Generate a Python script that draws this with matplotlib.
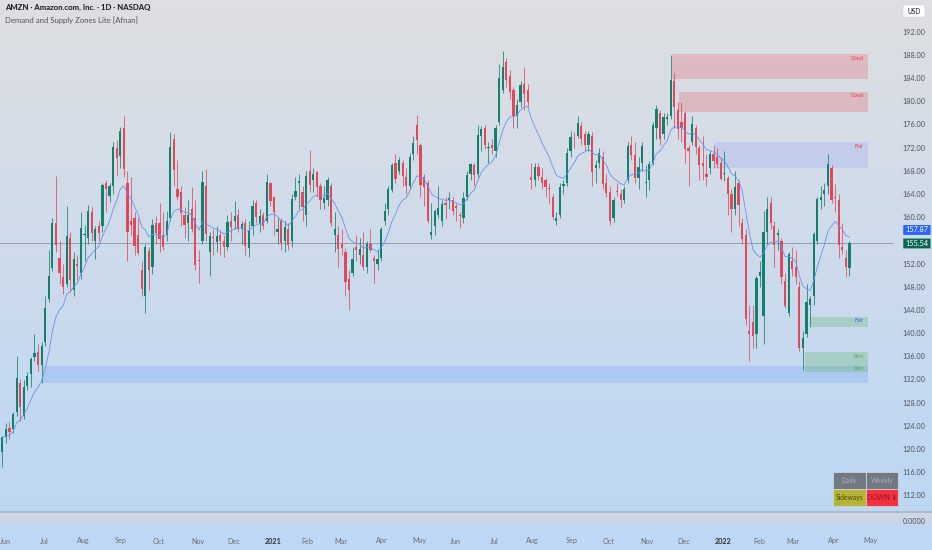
import numpy as np
import pandas as pd
import matplotlib
matplotlib.use("Agg")
import matplotlib.pyplot as plt
from matplotlib.patches import Rectangle, FancyBboxPatch

plt.rcParams["font.family"] = ["Lato", "DejaVu Sans"]

# AMZN daily candles, grouped two sessions per bar (2020-05-28 .. 2022-04-13)
opens = [
    119.5, 122.2, 123.7, 123.5, 126.5, 131.5, 125.8, 131.0, 133.0, 136.0, 136.8, 134.5,
    138.5, 146.0, 151.3, 159.0, 153.0, 149.8, 148.5, 156.5, 147.5, 152.0, 150.5,
    157.0, 156.5, 161.0, 156.0, 158.6, 158.5, 166.0, 163.8, 165.5, 172.0, 170.6,
    175.5, 166.0, 159.5, 160.0, 157.0, 151.0, 146.5, 154.3, 151.5, 159.0,
    159.0, 157.0, 157.0, 160.0, 173.5, 165.0, 164.5, 160.5, 159.0, 161.5, 160.0,
    152.5, 156.0, 165.5, 154.0, 156.5, 155.8, 157.0, 155.9, 155.0, 159.5,
    159.5, 160.5, 158.0, 159.0, 154.8, 158.5, 162.5, 159.0, 160.5, 159.5, 166.0,
    163.5, 157.5, 159.5, 156.0, 158.0, 156.0, 163.5, 166.0, 164.5, 160.5,
    168.0, 166.5, 167.8, 165.5, 162.5, 163.0, 165.5, 157.0, 157.0,
    155.5, 154.0, 149.5, 150.5, 155.0, 153.5, 153.5, 151.5, 155.5, 153.0, 152.0, 153.0,
    159.5, 161.5, 164.8, 169.5, 168.0, 169.5, 167.0, 165.5, 171.0, 176.0,
    172.5, 167.0, 166.0, 157.0, 158.5, 160.5, 159.5, 162.5, 163.0, 163.0,
    162.0, 160.5, 160.0, 163.5, 167.5, 169.0, 167.5, 174.0, 175.5, 172.0, 172.5,
    171.5, 176.5, 182.0, 186.8, 184.5, 182.0, 177.5, 180.0, 183.0, 182.0, 167.0,
    166.5, 168.8, 167.0, 166.5, 165.0, 163.5, 159.5, 160.5, 165.5, 166.0, 171.5,
    174.0, 174.0, 175.8, 174.5, 172.5, 174.0, 168.5, 169.5, 170.5, 166.0,
    164.5, 160.0, 164.5, 164.0, 163.0, 166.5, 172.5, 170.8, 166.8, 169.5, 166.0,
    166.5, 169.5, 175.5, 178.0, 174.5, 177.0, 177.5, 183.5, 178.5, 176.5,
    178.0, 172.0, 173.0, 175.5, 172.0, 169.5, 167.5, 168.5, 171.0, 170.5, 169.5,
    167.5, 166.8, 164.0, 161.5, 166.0, 159.0, 157.0, 140.5, 142.0, 140.0,
    150.0, 143.0, 157.5, 162.5, 158.5, 157.0, 156.0, 149.0, 143.5, 152.5,
    151.5, 148.0, 137.5, 140.0, 145.0, 146.5, 156.0, 163.0, 164.0, 165.5, 168.5,
    163.5, 163.0, 155.0, 153.0, 151.3,
]
highs = [
    122.3, 124.6, 124.8, 126.4, 136.1, 132.2, 132.0, 133.3, 136.0, 140.0, 138.2, 138.5,
    146.5, 154.5, 159.9, 167.2, 156.0, 152.0, 162.0, 157.5, 154.0, 153.5, 161.0,
    158.8, 162.2, 161.8, 158.5, 159.5, 166.0, 166.5, 166.0, 173.0, 173.3, 175.6,
    177.6, 168.0, 167.0, 161.0, 160.0, 152.5, 155.5, 155.0, 159.8, 160.2,
    162.5, 161.0, 161.2, 174.8, 174.5, 170.0, 165.5, 161.8, 163.0, 165.2, 163.0,
    154.5, 168.0, 168.3, 157.5, 158.0, 158.5, 157.8, 157.0, 160.5, 161.0,
    162.8, 161.5, 159.5, 159.8, 159.5, 163.0, 163.0, 161.5, 161.0, 167.5, 166.2,
    163.6, 160.0, 160.0, 159.5, 159.0, 164.0, 167.0, 167.5, 165.5, 168.0,
    171.7, 168.5, 168.0, 166.0, 165.5, 167.0, 166.0, 161.0, 158.5,
    158.0, 154.8, 151.0, 155.0, 157.0, 156.5, 157.5, 156.0, 158.0, 153.5, 154.5, 158.3,
    162.5, 165.5, 169.5, 171.0, 170.5, 170.0, 168.5, 171.2, 174.0, 177.7,
    172.8, 167.5, 166.5, 162.5, 161.5, 165.5, 163.0, 163.5, 164.5, 163.5,
    162.5, 161.0, 164.5, 168.0, 169.5, 169.5, 176.0, 175.8, 176.0, 173.0, 173.5,
    176.0, 186.5, 188.7, 187.5, 185.5, 182.5, 180.5, 183.5, 186.0, 183.0, 169.5,
    169.5, 169.5, 168.5, 166.8, 166.0, 164.0, 161.0, 166.0, 166.5, 172.0, 175.0,
    174.8, 177.6, 176.5, 175.0, 175.0, 174.8, 170.0, 172.0, 171.5, 167.5,
    165.5, 163.5, 166.0, 165.0, 165.5, 173.0, 174.0, 173.0, 170.5, 173.0, 169.0,
    169.8, 176.5, 179.5, 178.5, 178.0, 178.0, 188.1, 185.0, 180.0, 180.0,
    178.3, 172.5, 177.5, 176.0, 172.5, 174.0, 171.0, 171.5, 172.5, 172.0, 170.5,
    171.4, 167.2, 165.0, 168.0, 166.5, 160.0, 158.0, 145.0, 145.0, 150.0,
    152.5, 161.2, 163.5, 163.5, 159.5, 158.0, 156.5, 150.5, 154.0, 155.0,
    154.5, 149.0, 140.5, 148.5, 146.5, 157.5, 163.5, 165.5, 166.0, 170.9, 169.0,
    165.8, 164.0, 159.0, 154.5, 156.0,
]
lows = [
    117.0, 121.2, 121.8, 122.8, 125.8, 125.0, 125.2, 130.2, 130.8, 135.2, 133.5, 131.5,
    137.9, 145.5, 150.8, 154.0, 148.5, 146.8, 148.0, 147.2, 146.5, 149.2, 149.5,
    152.5, 155.5, 156.0, 152.8, 156.0, 157.5, 161.0, 162.7, 164.0, 167.2, 168.5,
    167.0, 152.5, 157.0, 153.5, 153.5, 146.5, 143.6, 147.6, 150.2, 155.5,
    154.0, 154.5, 156.0, 159.5, 165.5, 163.0, 158.5, 156.5, 156.0, 157.5, 151.0,
    148.8, 155.5, 156.0, 150.0, 153.5, 154.0, 153.5, 153.2, 154.5, 156.0,
    158.0, 157.5, 155.5, 153.5, 153.2, 157.0, 159.0, 157.5, 158.0, 159.0, 162.0,
    157.0, 155.5, 154.5, 154.0, 154.5, 155.0, 163.0, 161.5, 159.5, 158.5,
    164.5, 164.5, 163.5, 161.5, 161.5, 162.0, 158.5, 154.0, 151.5,
    153.5, 146.5, 144.1, 150.0, 152.5, 152.0, 151.0, 150.5, 154.0, 148.8, 151.0, 152.5,
    158.8, 160.5, 164.5, 166.0, 167.5, 165.5, 164.0, 165.0, 170.0, 171.0,
    163.5, 162.0, 159.0, 156.3, 157.0, 160.0, 158.5, 159.8, 161.5, 160.5,
    159.5, 158.2, 159.0, 163.0, 166.5, 165.5, 167.0, 171.5, 171.8, 169.5, 171.0,
    170.5, 176.0, 181.5, 182.5, 180.5, 175.5, 175.5, 179.0, 178.5, 179.0, 165.0,
    165.5, 166.5, 165.0, 163.5, 162.5, 159.8, 158.8, 160.0, 164.0, 165.5, 170.5,
    172.0, 173.8, 172.5, 171.5, 171.5, 165.5, 166.0, 168.5, 165.0, 163.5,
    158.8, 159.2, 163.8, 161.8, 162.5, 166.0, 170.0, 166.0, 165.0, 168.0, 163.5,
    164.8, 169.0, 173.5, 172.5, 173.5, 176.0, 177.0, 175.5, 173.5, 173.0,
    169.5, 165.5, 172.5, 171.0, 166.5, 166.5, 165.5, 167.5, 168.5, 168.5, 166.5,
    166.3, 160.5, 157.5, 160.5, 158.5, 155.5, 141.5, 135.3, 137.5, 137.5,
    148.0, 138.2, 155.5, 158.0, 151.5, 154.5, 148.5, 144.5, 143.0, 150.0,
    148.5, 137.0, 133.7, 139.5, 141.1, 145.0, 155.5, 161.5, 162.0, 164.0, 162.5,
    161.0, 153.0, 153.8, 149.8, 150.0,
]
closes = [
    122.1, 123.6, 123.0, 126.2, 132.4, 127.3, 130.8, 132.7, 135.7, 136.7, 134.6, 137.9,
    144.5, 150.0, 159.1, 155.2, 150.4, 148.0, 156.9, 149.3, 152.8, 151.7, 158.2,
    157.0, 161.2, 157.4, 158.1, 157.4, 165.6, 164.9, 165.4, 172.1, 170.2, 175.0,
    168.4, 157.5, 158.8, 155.1, 153.9, 147.7, 155.0, 151.0, 158.7, 157.4,
    156.3, 155.0, 159.5, 172.2, 168.2, 163.6, 160.8, 158.8, 160.4, 158.1, 151.8,
    152.4, 166.1, 157.2, 156.8, 156.4, 156.8, 155.9, 154.9, 159.3, 158.4,
    160.2, 158.1, 158.9, 155.1, 157.8, 162.0, 160.1, 160.3, 158.6, 166.1, 162.8,
    160.9, 158.1, 155.7, 158.3, 155.2, 163.2, 164.6, 166.3, 161.9, 167.1,
    165.6, 167.6, 165.3, 163.1, 163.4, 166.4, 159.0, 158.0, 154.6,
    154.7, 148.9, 147.6, 152.9, 154.4, 154.6, 151.4, 155.5, 154.4, 152.6, 152.8, 158.1,
    161.2, 165.0, 169.0, 166.7, 170.0, 167.2, 165.5, 170.5, 172.9, 173.4,
    165.6, 165.3, 159.5, 157.6, 161.1, 161.6, 162.4, 162.2, 163.3, 161.2,
    161.6, 160.3, 163.3, 167.3, 169.2, 167.3, 174.3, 175.2, 172.5, 172.2, 172.0,
    175.5, 184.1, 186.0, 183.8, 181.6, 177.5, 179.4, 182.8, 181.3, 180.0, 166.5,
    168.8, 167.2, 166.0, 165.2, 164.9, 160.1, 160.0, 165.3, 165.8, 171.1, 173.9,
    173.9, 176.3, 173.5, 172.5, 174.4, 167.8, 169.1, 171.2, 165.8, 164.3,
    159.5, 163.1, 164.4, 163.1, 165.0, 172.3, 170.8, 166.8, 168.8, 172.3, 166.0,
    169.2, 175.9, 178.8, 173.6, 177.3, 177.4, 183.8, 179.0, 175.2, 175.4,
    171.8, 171.4, 176.2, 172.2, 169.1, 168.9, 167.0, 171.0, 169.7, 169.2, 166.7,
    167.5, 164.1, 161.5, 165.2, 162.1, 156.3, 142.6, 140.0, 139.6, 149.6,
    150.6, 157.6, 161.4, 159.0, 155.2, 157.3, 149.7, 144.8, 153.8, 151.1,
    149.7, 137.5, 139.3, 145.5, 146.0, 157.2, 163.2, 163.5, 164.8, 169.3, 163.0,
    163.3, 155.3, 154.5, 151.5, 155.54,
]
ma_last = 157.87

# supply / demand zones (prices, start in trading-day index)
zone_labels = ["Good", "Good", "Fair", "Fair", "Best", "Best"]
zone_tops = [188.2, 181.7, 173.0, 142.9, 136.8, 134.6]
zone_bottoms = [183.9, 178.2, 168.6, 141.1, 134.6, 133.4]
zone_starts = [375.2, 379.0, 399.3, 452.5, 449.7, 449.7]
zone_fill = ["#f23645", "#f23645", "#7f8dff", "#4caf50", "#4caf50", "#4caf50"]
zone_alpha = [0.22, 0.22, 0.2, 0.25, 0.25, 0.25]
zone_text = ["#f23645", "#f23645", "#f23645", "#2962ff", "#4caf50", "#4caf50"]
band_top, band_bottom, band_start = 134.4, 131.5, 23.3
zone_end = 485.0

holidays = pd.to_datetime([
    "2020-07-03", "2020-09-07", "2020-11-26", "2020-12-25", "2021-01-01",
    "2021-01-18", "2021-02-15", "2021-04-02", "2021-05-31", "2021-07-05",
    "2021-09-06", "2021-11-25", "2021-12-24", "2022-01-17", "2022-02-21",
    "2022-04-15", "2022-05-30",
])
days = pd.bdate_range("2020-05-28", "2022-05-31")
days = days[~days.isin(holidays)]

W, H = 932, 550
fig = plt.figure(figsize=(W / 100, H / 100), dpi=100)


def px_box(x0, y0, x1, y1):
    return [x0 / W, 1 - y1 / H, (x1 - x0) / W, (y1 - y0) / H]


# background gradient
top_c = np.array([222, 223, 226]) / 255
bot_c = np.array([189, 215, 244]) / 255
pane_c = np.array([212, 216, 224]) / 255
grad = np.zeros((H, 1, 3))
for r in range(H):
    if r < 512:
        t = r / 511
        grad[r, 0] = top_c * (1 - t) + bot_c * t
    elif r < 531:
        t = (r - 512) / 18
        grad[r, 0] = pane_c * (1 - t) + bot_c * t
    else:
        grad[r, 0] = bot_c
bg = fig.add_axes([0, 0, 1, 1])
bg.imshow(grad, aspect="auto", extent=[0, W, H, 0])
bg.set_xlim(0, W)
bg.set_ylim(H, 0)
bg.axis("off")
bg.plot([0, W], [511.5, 511.5], color="#a9bbd0", lw=1.4)

ax = fig.add_axes(px_box(0, 0, 893, 512))
ax.set_facecolor("none")
ax.set_xlim(-0.8, 498.9)
ax.set_ylim(109.24, 197.52)
ax.axis("off")

# zones
ax.add_patch(Rectangle((band_start, band_bottom), zone_end - band_start,
                       band_top - band_bottom, color="#4a8cff", alpha=0.2, lw=0))
for lab, t, b, s, fc, a, tc in zip(zone_labels, zone_tops, zone_bottoms,
                                   zone_starts, zone_fill, zone_alpha, zone_text):
    ax.add_patch(Rectangle((s, b), zone_end - s, t - b, color=fc, alpha=a, lw=0))
    ax.text(zone_end - 2.5, t - 0.25, lab, color=tc, fontsize=3.8,
            ha="right", va="top")

# last price line
ax.axhline(closes[-1], color="#8e949d", lw=0.6, zorder=1)

# candles
o = np.array(opens)
h = np.array(highs)
l = np.array(lows)
c = np.array(closes)
x = np.arange(len(c)) * 2 + 0.5
up = c >= o
col = np.where(up, "#12806b", "#e0485c")
ax.vlines(x, l, h, colors=col, lw=0.55, zorder=3)
body = np.where(np.abs(c - o) < 0.15, 0.15, c - o)
ax.bar(x, body, bottom=o, width=1.25, color=col, lw=0, zorder=4)

ma = pd.Series(closes).ewm(span=11, adjust=False).mean()
ax.plot(x, ma, color="#6a93e6", lw=0.6, zorder=5)

# right price scale (labels hidden behind the price tags are skipped)
tags = [(ma_last, "#2962ff"), (closes[-1], "#0b6650")]
yt = ax.get_yaxis_transform()
for p in range(112, 193, 4):
    if any(abs(p - v) < 1.6 for v, _ in tags):
        continue
    ax.text(1.0235, p, f"{p:.2f}", transform=yt, fontsize=5.2, color="#4c515c",
            ha="center", va="center", clip_on=False)

for val, fc in tags:
    ax.add_patch(FancyBboxPatch((1.0115, val - 0.85), 0.0305, 1.7,
                                boxstyle="round,pad=0,rounding_size=0.003",
                                transform=yt, color=fc, clip_on=False, lw=0))
    ax.text(1.0268, val, f"{val:.2f}", transform=yt, fontsize=5.3,
            color="white", ha="center", va="center", clip_on=False)

bg.add_patch(FancyBboxPatch((903, 5), 22, 12, boxstyle="round,pad=0,rounding_size=2",
                            fc="white", ec="#d4d6da", lw=0.4))
bg.text(914, 11, "USD", fontsize=4.8, color="#131722", ha="center", va="center")
bg.text(914, 522, "0.0000", fontsize=5.2, color="#4c515c", ha="center", va="center")

# header texts
bg.text(5, 7, "AMZN · Amazon.com, Inc. · 1D · NASDAQ", fontsize=5.6,
        color="#131722", ha="left", va="center", fontweight="bold")
bg.text(5, 20, "Demand and Supply Zones Lite [Afnan]", fontsize=5.6,
        color="#50535e", ha="left", va="center")

# time axis
idx = pd.Series(np.arange(len(days)), index=days)
firsts = idx.groupby([days.year, days.month]).first()
xt = ax.get_xaxis_transform()
for (yr, mo), d in firsts.items():
    if (yr, mo) < (2020, 6):
        continue
    if mo == 1:
        lab, fw, cc = str(yr), "bold", "#2a2e39"
    else:
        lab, fw, cc = pd.Timestamp(yr, mo, 1).strftime("%b"), "normal", "#6a6e78"
    ax.text(d, -29 / 512, lab, transform=xt, fontsize=5.2, color=cc,
            fontweight=fw, ha="center", va="center", clip_on=False)

# trend table
cells = [
    (833, 472, 866, 489, "#737983", "Daily", "#a9aeb6"),
    (866, 472, 898, 489, "#737983", "Weekly", "#a9aeb6"),
    (833, 489, 866, 506, "#b6b43a", "Sideways", "#4d4b0e"),
    (866, 489, 898, 506, "#f0323f", "DOWN ⬇", "#a10f1c"),
]
for x0, y0, x1, y1, fc, txt, tc in cells:
    bg.add_patch(Rectangle((x0, y0), x1 - x0, y1 - y0, fc=fc, ec="#d6dbe3", lw=0.5))
    bg.text((x0 + x1) / 2, (y0 + y1) / 2, txt, fontsize=4.9, color=tc,
            ha="center", va="center")

fig.savefig("out.png", dpi=100)
